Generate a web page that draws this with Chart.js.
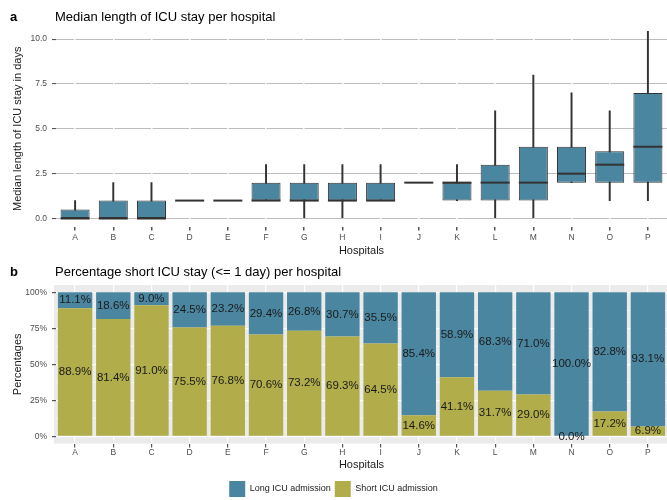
<!DOCTYPE html>
<html><head><meta charset="utf-8">
<script src="https://cdn.jsdelivr.net/npm/chart.js@4"></script>
<style>
html,body{margin:0;padding:0;background:#fff;}
#wrap{position:relative;width:667px;height:500px;font-family:"Liberation Sans",Arial,sans-serif;overflow:hidden;}
.lab{position:absolute;font-size:13px;color:#000;white-space:nowrap;line-height:1;}
.tag{font-weight:bold;}
#c1{position:absolute;left:0;top:0;}
#c2{position:absolute;left:0;top:258px;}
</style></head>
<body><div id="wrap">
<canvas id="c1" width="667" height="258"></canvas>
<canvas id="c2" width="667" height="249"></canvas>
<div class="lab tag" style="left:10px;top:10px">a</div>
<div class="lab" style="left:55px;top:10px">Median length of ICU stay per hospital</div>
<div class="lab tag" style="left:10px;top:265px">b</div>
<div class="lab" style="left:55px;top:265px">Percentage short ICU stay (&lt;= 1 day) per hospital</div>
</div>
<script>
const hospitals = ['A','B','C','D','E','F','G','H','I','J','K','L','M','N','O','P'];
const stayMin    = [0,0,0,1,1,1,0,0,1,2,1,0,0,2,1,1];
const stayQ1     = [0,0,0,1,1,1,1,1,1,2,1,1,1,2,2,2];
const stayMedian = [0,0,0,1,1,1,1,1,1,2,2,2,2,2.5,3,4];
const stayQ3     = [0.5,1,1,1,1,2,2,2,2,2,2,3,4,4,3.75,7];
const stayMax    = [1,2,2,1,1,3,3,3,3,2,3,6,8,7,6,10.45];
const longPct  = [11.1,18.6,9.0,24.5,23.2,29.4,26.8,30.7,35.5,85.4,58.9,68.3,71.0,100.0,82.8,93.1];
const shortPct = [88.9,81.4,91.0,75.5,76.8,70.6,73.2,69.3,64.5,14.6,41.1,31.7,29.0,0.0,17.2,6.9];
const yTicksTop = [0,2.5,5,7.5,10];
const yTicksBottom = [0,25,50,75,100];

const BLUE = '#4B86A0', OLIVE = '#B0AD4A', DARK = '#333333';
const FONT = '"Liberation Sans", Arial, sans-serif';
Chart.defaults.font.family = FONT;
Chart.defaults.animation = false;

// ---- top: boxplot ----
new Chart(document.getElementById('c1'), {
  type: 'bar',
  data: {
    labels: hospitals,
    datasets: [
      { label: 'whisker', data: stayMin.map((v,i)=>[v, stayMax[i]]), backgroundColor: DARK,
        barThickness: 1.3, grouped: false, order: 3 },
      { label: 'box', data: stayQ1.map((v,i)=>[v, stayQ3[i]]), backgroundColor: BLUE,
        borderColor: DARK, borderWidth: 1, borderSkipped: false,
        barPercentage: 0.76, categoryPercentage: 1, grouped: false, order: 2 },
      { type: 'line', label: 'median', data: stayMedian, showLine: false, clip: false,
        pointStyle: 'line', pointRadius: 14.5, pointHoverRadius: 14.5,
        borderColor: DARK, pointBorderColor: DARK, pointBorderWidth: 2, borderWidth: 2, order: 1 }
    ]
  },
  options: {
    responsive: false,
    layout: { autoPadding: false, padding: { top: 31, left: 0, right: 0, bottom: 0 } },
    plugins: { legend: { display: false }, tooltip: { enabled: false } },
    scales: {
      y: {
        min: -0.45, max: 10.45,
        afterBuildTicks: s => { s.ticks = yTicksTop.map(v => ({ value: v })); },
        afterFit: s => { s.width = 56; },
        ticks: { callback: v => Number(v).toFixed(1), color: '#4d4d4d', font: { size: 8.5 }, padding: 5 },
        grid: { color: '#bdbdbd', lineWidth: 1.1, tickColor: '#555', tickLength: 4, z: -2 },
        border: { display: false },
        title: { display: true, text: 'Median length of ICU stay in days', color: '#1a1a1a',
                 font: { size: 11 }, padding: { top: 11, bottom: 0 } }
      },
      x: {
        grid: { color: '#ffffff', lineWidth: 1.5, offset: false, tickColor: '#555', tickLength: 4, z: -1 },
        border: { display: false },
        ticks: { color: '#4d4d4d', font: { size: 8.5 }, padding: 2 },
        title: { display: true, text: 'Hospitals', color: '#1a1a1a', font: { size: 11 }, padding: { top: 0, bottom: 0 } }
      }
    }
  }
});

// ---- bottom: stacked percentages ----
const bgPlugin = {
  id: 'panelBg',
  beforeDraw(chart) {
    const a = chart.chartArea, ctx = chart.ctx;
    ctx.save(); ctx.fillStyle = '#ebebeb';
    ctx.fillRect(a.left - 2, a.top, a.right - a.left + 2, a.bottom - a.top);
    ctx.restore();
  }
};
const labelPlugin = {
  id: 'barLabels',
  afterDatasetsDraw(chart) {
    const ctx = chart.ctx;
    ctx.save();
    ctx.font = '11.5px ' + FONT;
    ctx.fillStyle = '#1a1a1a';
    ctx.textAlign = 'center'; ctx.textBaseline = 'middle';
    chart.data.datasets.forEach((ds, di) => {
      const meta = chart.getDatasetMeta(di);
      meta.data.forEach((el, i) => {
        const y = (el.y + el.base) / 2;
        ctx.fillText(ds.data[i].toFixed(1) + '%', el.x, y);
      });
    });
    ctx.restore();
  }
};
new Chart(document.getElementById('c2'), {
  type: 'bar',
  data: {
    labels: hospitals,
    datasets: [
      { label: 'Short ICU admission', data: shortPct, backgroundColor: OLIVE, barPercentage: 0.9, categoryPercentage: 1 },
      { label: 'Long ICU admission', data: longPct, backgroundColor: BLUE, barPercentage: 0.9, categoryPercentage: 1 }
    ]
  },
  options: {
    responsive: false,
    layout: { autoPadding: false, padding: { top: 27, left: 0, right: 0, bottom: 0 } },
    plugins: {
      tooltip: { enabled: false },
      legend: {
        position: 'bottom', reverse: true,
        labels: { boxWidth: 16, boxHeight: 16, color: '#1a1a1a', font: { size: 9 }, padding: 4 }
      }
    },
    scales: {
      y: {
        stacked: true, min: -5, max: 105,
        afterBuildTicks: s => {
          const t = [];
          for (let k = 0; k < yTicksBottom.length; k++) {
            t.push({ value: yTicksBottom[k] });
            if (k < yTicksBottom.length - 1) t.push({ value: (yTicksBottom[k] + yTicksBottom[k+1]) / 2 });
          }
          s.ticks = t;
        },
        afterFit: s => { s.width = 56; },
        ticks: { autoSkip: false, callback: v => (yTicksBottom.includes(v) ? v + '%' : ''),
                 color: '#4d4d4d', font: { size: 8.5 }, padding: 5 },
        grid: { color: '#ffffff', lineWidth: c => (yTicksBottom.includes(c.tick && c.tick.value) ? 1.2 : 0.5),
                tickColor: c => (yTicksBottom.includes(c.tick && c.tick.value) ? '#555' : 'rgba(0,0,0,0)'),
                tickLength: 4 },
        border: { display: false },
        title: { display: true, text: 'Percentages', color: '#1a1a1a', font: { size: 11 }, padding: { top: 11, bottom: 0 } }
      },
      x: {
        stacked: true,
        grid: { color: '#ffffff', lineWidth: 1.2, offset: false, tickColor: '#555', tickLength: 4 },
        border: { display: false },
        ticks: { color: '#4d4d4d', font: { size: 8.5 }, padding: 0 },
        title: { display: true, text: 'Hospitals', color: '#1a1a1a', font: { size: 11 }, padding: { top: 1, bottom: 5 } }
      }
    }
  },
  plugins: [bgPlugin, labelPlugin]
});
</script>
</body></html>
